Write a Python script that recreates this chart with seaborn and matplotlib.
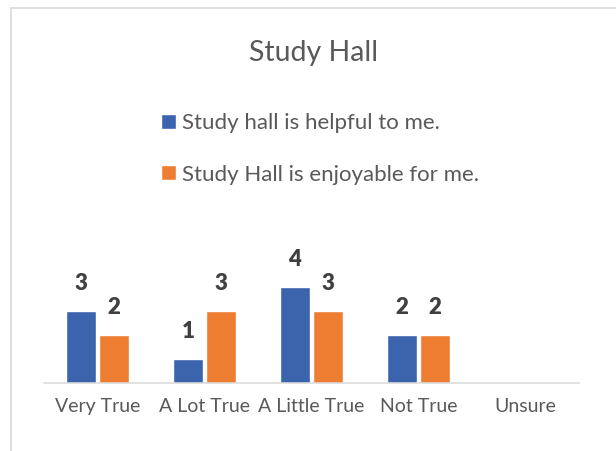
import matplotlib
matplotlib.use("Agg")
import matplotlib.pyplot as plt
import seaborn as sns
import pandas as pd
from matplotlib.lines import Line2D

categories = ["Very True", "A Lot True", "A Little True", "Not True", "Unsure"]
series_names = ["Study hall is helpful to me.", "Study Hall is enjoyable for me."]
helpful = [3, 1, 4, 2, None]
enjoyable = [2, 3, 3, 2, None]
title = "Study Hall"

colors = ["#3B64AD", "#ED7D31"]

rows = []
for name, vals in zip(series_names, [helpful, enjoyable]):
    for c, v in zip(categories, vals):
        if v is not None:
            rows.append({"category": c, "series": name, "value": v})
df = pd.DataFrame(rows)

sns.set_theme(style="white")
plt.rcParams["font.family"] = ["Lato", "DejaVu Sans"]

fig = plt.figure(figsize=(6.16, 4.51), dpi=100)
ax = fig.add_axes([44 / 616, (451 - 382.7) / 451, 535 / 616, 143.4 / 451])

sns.barplot(data=df, x="category", y="value", hue="series", order=categories,
            hue_order=series_names, palette=colors, width=0.62, gap=0.12,
            saturation=1, ax=ax, legend=True)

ax.set_ylim(0, 6)
ax.set_xlim(-0.5, len(categories) - 0.5)
ax.set_xlabel("")
ax.set_ylabel("")
ax.set_yticks([])
for s in ["top", "right", "left"]:
    ax.spines[s].set_visible(False)
ax.spines["bottom"].set_color("#D9D9D9")
ax.spines["bottom"].set_linewidth(1.1)
ax.tick_params(axis="x", length=0, pad=11, labelsize=14, labelcolor="#595959")

for cont in ax.containers:
    ax.bar_label(cont, padding=12, fontsize=16, fontweight="heavy", color="#404040")

handles, labels = ax.get_legend_handles_labels()
ax.get_legend().remove()
fig.legend(handles, labels, loc="upper left", bbox_to_anchor=(161 / 616, 1 - 113 / 451),
           frameon=False, fontsize=16, handlelength=0.66, handleheight=0.66,
           handletextpad=0.27, labelspacing=1.42, borderpad=0, borderaxespad=0,
           labelcolor="#595959")

fig.text(314 / 616, 1 - 53 / 451, title, ha="center", va="center", fontsize=20.5,
         color="#595959")

# chart border (partially cropped)
fig.add_artist(Line2D([11 / 616, 11 / 616], [0, 1 - 8 / 451], transform=fig.transFigure,
                      color="#D9D9D9", lw=1.2))
fig.add_artist(Line2D([11 / 616, 1], [1 - 8 / 451, 1 - 8 / 451], transform=fig.transFigure,
                      color="#D9D9D9", lw=1.2))

fig.savefig("out.png", dpi=100)
